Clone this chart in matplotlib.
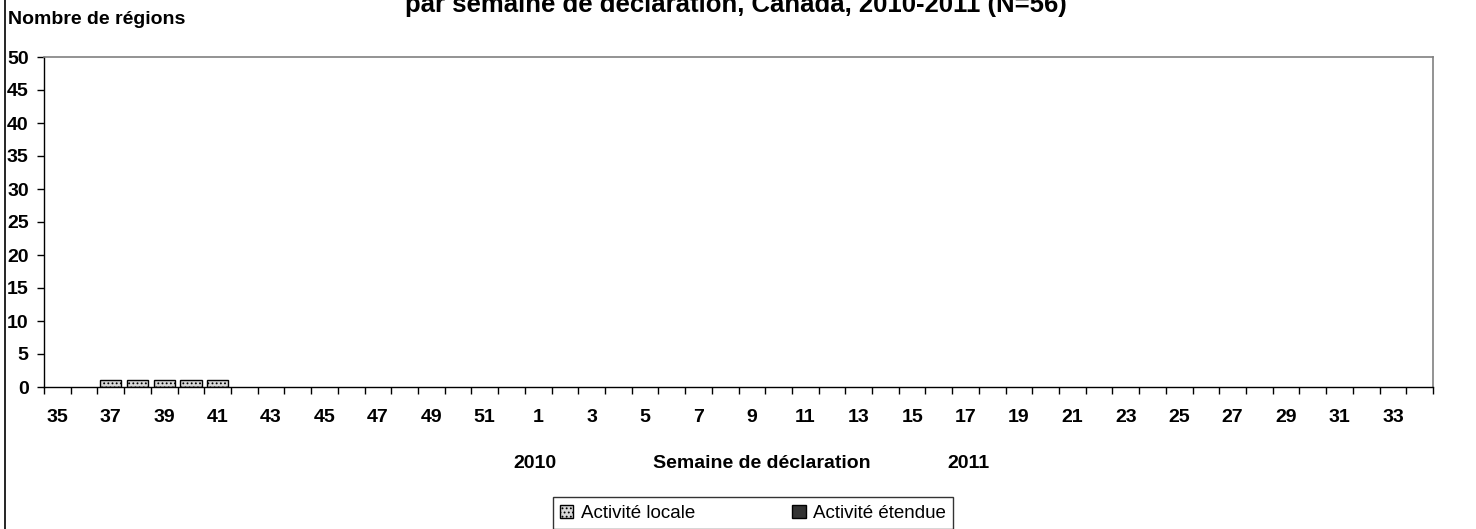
import numpy as np
import matplotlib
matplotlib.use("Agg")
import matplotlib.pyplot as plt
from matplotlib.lines import Line2D
from matplotlib.patches import Patch

plt.rcParams['font.family'] = ['Liberation Sans', 'DejaVu Sans']
plt.rcParams['hatch.color'] = '#707070'
plt.rcParams['hatch.linewidth'] = 0.8

# semaines 35-52 (2010) puis 1-34 (2011)
weeks = list(range(35, 53)) + list(range(1, 35))
locale = [0, 0, 1, 1, 1, 1, 1] + [0] * 45
etendue = [0] * 52
tick_labels = [str(w) if i % 2 == 0 else '' for i, w in enumerate(weeks)]

fig = plt.figure(figsize=(14.76, 5.29), dpi=100)
ax = fig.add_axes([44/1476, 1-387/529, 1389/1476, 330/529])

x = np.arange(len(weeks))
loc = np.array(locale)
ete = np.array(etendue)
nz = loc > 0
ax.bar(x[nz], loc[nz], width=0.8, color='#d8d8d8', edgecolor='black',
       linewidth=1.0, hatch='....')
nz2 = ete > 0
ax.bar(x[nz2], ete[nz2], bottom=loc[nz2], width=0.8, color='#333333',
       edgecolor='black', linewidth=1.0)

ax.set_xlim(-0.5, len(weeks)-0.5)
ax.set_ylim(0, 50)
ax.set_yticks(range(0, 51, 5))
ax.set_yticklabels([str(v) for v in range(0, 51, 5)], fontsize=14,
                   fontweight='bold')
ax.set_xticks(x)
ax.set_xticklabels(tick_labels, fontsize=14, fontweight='bold')
ax.tick_params(axis='x', which='major', length=0, pad=16)
ax.set_xticks(np.arange(-0.5, len(weeks), 1), minor=True)
ax.tick_params(axis='x', which='minor', length=5, direction='out',
               color='black', width=1)
ax.tick_params(axis='y', length=5, direction='out', width=1, pad=6)

for s in ['top', 'right']:
    ax.spines[s].set_color('#808080')
    ax.spines[s].set_linewidth(1.2)
for s in ['left', 'bottom']:
    ax.spines[s].set_color('black')
    ax.spines[s].set_linewidth(1.0)

fig.text(8/1476, 1-20/529, 'Nombre de régions', fontsize=14,
         fontweight='bold', ha='left', va='center')
fig.text(736/1476, 1-12/529, 'par semaine de déclaration, Canada, 2010-2011 (N=56)',
         fontsize=18.5, fontweight='bold', ha='center', va='baseline')
fig.text(535/1476, 1-463/529, '2010', fontsize=14, fontweight='bold',
         ha='center', va='center')
fig.text(762/1476, 1-463/529, 'Semaine de déclaration', fontsize=14,
         fontweight='bold', ha='center', va='center')
fig.text(968/1476, 1-463/529, '2011', fontsize=14, fontweight='bold',
         ha='center', va='center')

fig.add_artist(Line2D([5/1476, 5/1476], [0, 1], transform=fig.transFigure,
                      color='black', lw=1.2))

handles = [Patch(facecolor='#d8d8d8', edgecolor='black', hatch='....'),
           Patch(facecolor='#333333', edgecolor='black')]
leg = fig.legend(handles, ['Activité locale', 'Activité étendue'],
                 loc='upper center', bbox_to_anchor=(753/1476, 1-497/529),
                 ncol=2, frameon=True, fancybox=False, fontsize=13.5,
                 handlelength=0.7, handleheight=0.7, columnspacing=5.2,
                 borderpad=0.4, handletextpad=0.4, borderaxespad=0)
leg.get_frame().set_edgecolor('black')
leg.get_frame().set_linewidth(1.0)
leg._legend_box.align = 'center'

fig.savefig('out.png', dpi=100)
